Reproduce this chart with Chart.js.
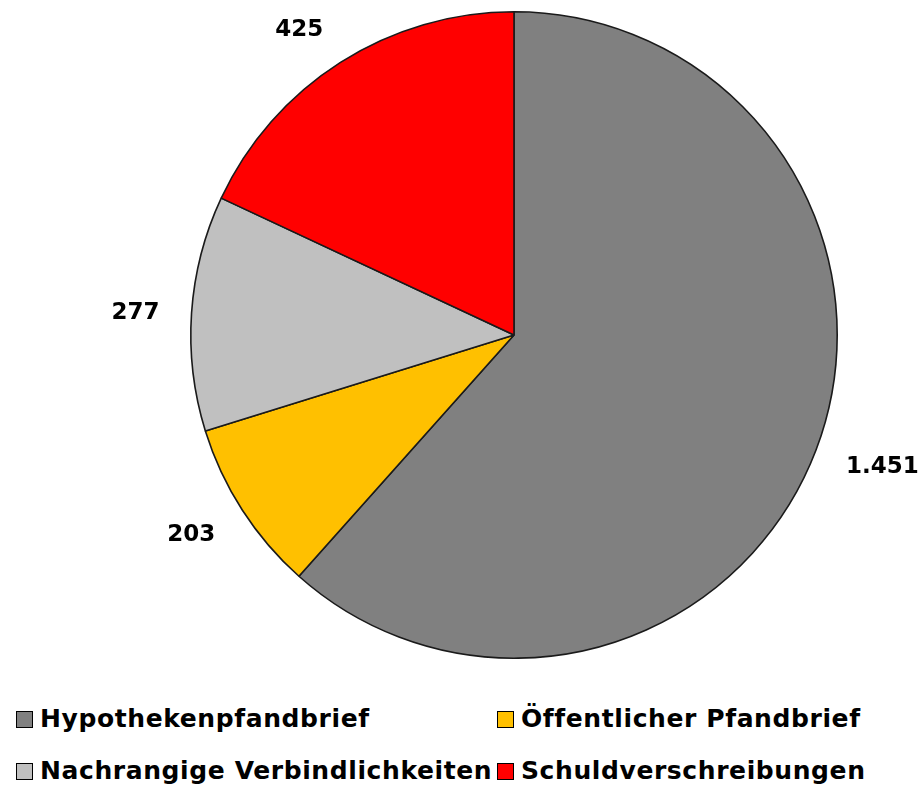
<!DOCTYPE html>
<html>
<head>
<meta charset="utf-8">
<script src="https://cdn.jsdelivr.net/npm/chart.js@4"></script>
<style>
  body { margin: 0; background: #fff; width: 923px; height: 787px; overflow: hidden; position: relative; }
  #wrap { position: absolute; left: 0; top: 0; width: 923px; height: 680px; }
  .box { position: absolute; width: 15px; height: 15px; border: 1px solid #000; }
  .txt { position: absolute; font-family: "DejaVu Sans", sans-serif; font-weight: bold; font-size: 25px; letter-spacing: 0.6px; color: #000; white-space: nowrap; line-height: 30px; }
</style>
</head>
<body>
<div id="wrap"><canvas id="pieChart"></canvas></div>
<div id="legend"></div>
<script>
const categories = ["Hypothekenpfandbrief", "Öffentlicher Pfandbrief", "Nachrangige Verbindlichkeiten", "Schuldverschreibungen"];
const values = [1451, 203, 277, 425];
const colors = ["#808080", "#FFC000", "#C0C0C0", "#FF0000"];

// legend: 2 columns, 2 rows
const legendX = [16, 497];
const legendY = [711, 763];
const legend = document.getElementById("legend");
categories.forEach((name, i) => {
  const x = legendX[i % 2], y = legendY[Math.floor(i / 2)];
  const b = document.createElement("div");
  b.className = "box";
  b.style.left = x + "px";
  b.style.top = y + "px";
  b.style.background = colors[i];
  legend.appendChild(b);
  const t = document.createElement("div");
  t.className = "txt";
  t.style.left = (x + 24) + "px";
  t.style.top = (y - 7) + "px";
  t.textContent = name;
  legend.appendChild(t);
});

// data labels outside the slices (Excel-like placement)
const outsideLabels = {
  id: "outsideLabels",
  afterDatasetsDraw(chart) {
    const ctx = chart.ctx;
    const meta = chart.getDatasetMeta(0);
    ctx.save();
    ctx.font = "bold 23px 'DejaVu Sans', sans-serif";
    ctx.fillStyle = "#000";
    ctx.textBaseline = "alphabetic";
    meta.data.forEach((arc, i) => {
      const p = arc.getProps(["x", "y", "startAngle", "endAngle", "outerRadius"], true);
      const mid = (p.startAngle + p.endAngle) / 2;
      const dx = Math.cos(mid), dy = Math.sin(mid);
      const txt = values[i].toLocaleString("de-DE");
      const dist = p.outerRadius + 32;
      const ax = p.x + dx * dist, ay = p.y + dy * dist;
      ctx.textAlign = dx >= 0 ? "left" : "right";
      const cy = ay + 9 * dy;
      ctx.fillText(txt, ax, cy + 8.5);
    });
    ctx.restore();
  }
};

const ctx = document.getElementById("pieChart").getContext("2d");
new Chart(ctx, {
  type: "pie",
  data: {
    labels: categories,
    datasets: [{
      data: values,
      backgroundColor: colors,
      borderColor: "#1a1a1a",
      borderWidth: 1.6
    }]
  },
  options: {
    responsive: true,
    maintainAspectRatio: false,
    animation: false,
    layout: { padding: { left: 190, right: 85, top: 11, bottom: 21 } },
    plugins: {
      legend: { display: false },
      tooltip: { enabled: false }
    }
  },
  plugins: [outsideLabels]
});
</script>
</body>
</html>
